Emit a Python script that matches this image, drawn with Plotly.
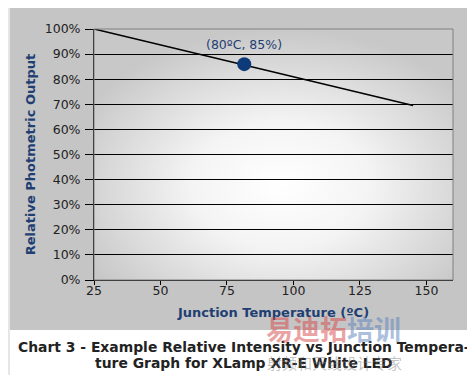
import plotly.graph_objects as go
import base64

# Data
line_temp = [25, 145]
line_output = [100, 69.5]
point_temp = [81.5]
point_output = [86]
point_label = "(80ºC, 85%)"
x_ticks = [25, 50, 75, 100, 125, 150]
y_ticks = [0, 10, 20, 30, 40, 50, 60, 70, 80, 90, 100]
y_ticklabels = [f"{v}%" for v in y_ticks]
caption_lines = ["Chart 3 - Example Relative Intensity vs Junction Tempera-",
                 "ture Graph for XLamp XR-E White LED"]

W, H = 475, 375
L, R, T, B = 86, 30, 21, 103
pw, ph = W - L - R, H - T - B

def px_x(p):
    return (p - L) / pw

def px_y(p):
    return (H - B - p) / ph

svg = ('<svg xmlns="http://www.w3.org/2000/svg" width="359" height="251" viewBox="0 0 359 251" preserveAspectRatio="none">'
       '<defs><radialGradient id="g" gradientUnits="objectBoundingBox" cx="0.52" cy="0.62" r="0.62">'
       '<stop offset="0" stop-color="#ffffff"/><stop offset="0.4" stop-color="#f4f4f4"/>'
       '<stop offset="1" stop-color="#c8c8c8"/></radialGradient></defs>'
       '<rect x="0" y="0" width="359" height="251" fill="url(#g)"/></svg>')
svg_uri = "data:image/svg+xml;base64," + base64.b64encode(svg.encode()).decode()

fig = go.Figure()
fig.add_trace(go.Scatter(x=line_temp, y=line_output, mode="lines",
                         line=dict(color="black", width=1.6), showlegend=False, hoverinfo="skip"))
fig.add_trace(go.Scatter(x=point_temp, y=point_output, mode="markers",
                         marker=dict(color="#0d3a78", size=14), showlegend=False))

fig.add_annotation(x=point_temp[0], y=point_output[0], text=point_label, showarrow=False,
                   yshift=20, font=dict(family="DejaVu Sans", size=12.5, color="#1f3f73"))

fig.add_layout_image(source=svg_uri, xref="paper", yref="paper", x=0, y=1,
                     sizex=1, sizey=1, xanchor="left", yanchor="top",
                     sizing="stretch", layer="below")

# white strip below the gray chart background, and thin left edge
fig.add_shape(type="rect", xref="paper", yref="paper", layer="below",
              x0=px_x(0), x1=px_x(W), y0=px_y(H), y1=px_y(322),
              fillcolor="white", line=dict(width=0))
fig.add_shape(type="rect", xref="paper", yref="paper", layer="below",
              x0=px_x(0), x1=px_x(2), y0=px_y(H), y1=px_y(0),
              fillcolor="#e6e6e6", line=dict(width=0))

# plot area border (top/right gray)
fig.add_shape(type="rect", xref="paper", yref="paper", x0=0, x1=1, y0=0, y1=1,
              line=dict(color="#808080", width=1))

for txt, yy in zip(caption_lines, [349, 365]):
    fig.add_annotation(xref="paper", yref="paper", x=px_x(236), y=px_y(yy),
                       text=txt, showarrow=False, align="center",
                       font=dict(family="DejaVu Sans", size=13.9, color="#222222", weight="bold"))

fig.add_annotation(xref="paper", yref="paper", x=px_x(395), y=px_y(342),
                   text="<span style='color:rgba(215,70,70,0.5)'>易迪拓</span><span style='color:rgba(90,130,190,0.5)'>培训</span>",
                   showarrow=False,
                   font=dict(family="Noto Sans CJK SC", size=27, weight="bold"))
fig.add_annotation(xref="paper", yref="paper", x=px_x(396), y=px_y(367),
                   text="射频和天线设计专家", showarrow=False,
                   font=dict(family="Noto Sans CJK SC", size=15, color="rgba(120,120,120,0.45)"))

fig.update_layout(
    width=W, height=H,
    margin=dict(l=L, r=R, t=T, b=B),
    paper_bgcolor="#c5c5c5",
    plot_bgcolor="rgba(0,0,0,0)",
    font=dict(family="DejaVu Sans", size=12.5, color="#222222"),
    xaxis=dict(range=[25, 160], tickvals=x_ticks, ticks="outside", ticklen=4,
               tickcolor="black", showline=True, linecolor="black", linewidth=1,
               showgrid=False, zeroline=False, ticklabelstandoff=-5,
               title=dict(text="<b>Junction Temperature (ºC)</b>", standoff=10,
                          font=dict(family="DejaVu Sans", size=13, color="#1f3f73"))),
    yaxis=dict(range=[0, 100], tickvals=y_ticks, ticktext=y_ticklabels, ticks="outside",
               ticklen=8, tickcolor="black", showline=True, linecolor="black", linewidth=1,
               showgrid=True, gridcolor="black", gridwidth=1, zeroline=False,
               ticklabelstandoff=2,
               title=dict(text="<b>Relative Photmetric Output</b>", standoff=6,
                          font=dict(family="DejaVu Sans", size=13, color="#1f3f73"))),
)

fig.write_html("out.html")
